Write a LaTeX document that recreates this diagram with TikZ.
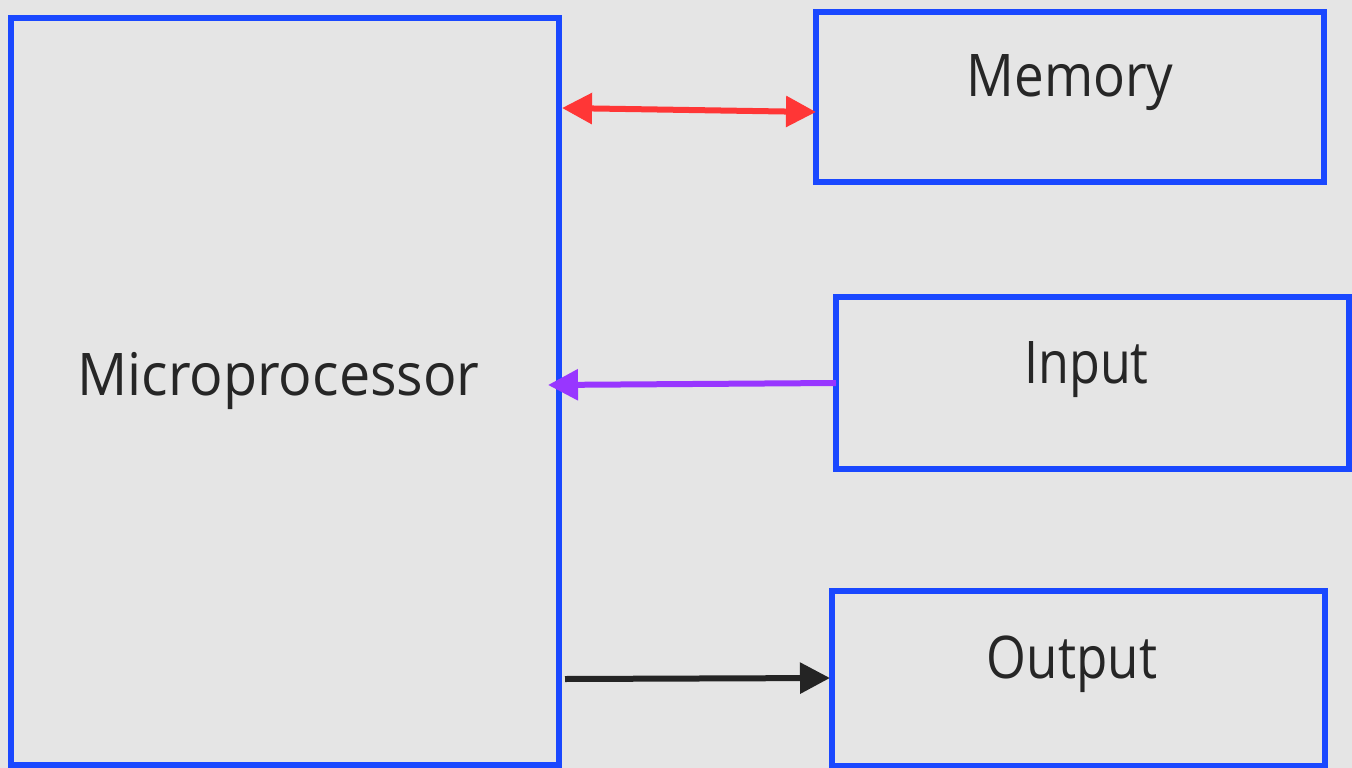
\documentclass[tikz,border=0pt]{standalone}
\usepackage{fontspec}
\usepackage{graphicx}
\setmainfont{Open Sans}
\usetikzlibrary{arrows.meta}
\definecolor{bgGrey}{RGB}{229,229,229}
\definecolor{boxBlue}{RGB}{26,72,255}
\definecolor{busRed}{RGB}{255,54,54}
\definecolor{busPurple}{RGB}{152,54,255}
\definecolor{busDark}{RGB}{36,36,36}
\definecolor{labelInk}{RGB}{38,38,38}
% caption set narrower than the font's natural width
\newcommand{\narrowcap}[2]{\scalebox{#1}[1]{#2}}
\tikzset{
  unitbox/.style={draw=boxBlue, line width=6pt, rectangle, inner sep=0pt},
  unitlabel/.style={anchor=base, inner sep=0pt, text=labelInk,
    font=\fontsize{58.8}{70}\selectfont},
  bus/.style={line width=6pt}
}
\begin{document}
\begin{tikzpicture}[x=1pt, y=-1pt]
  % canvas
  \fill[bgGrey] (0,0) rectangle (1352,768);
  \useasboundingbox (0,0) rectangle (1352,768);

  % functional blocks
  \node[unitbox, minimum width=548pt, minimum height=747pt] (mp)  at (285,391.5) {};
  \node[unitbox, minimum width=508pt, minimum height=170pt] (mem) at (1069.5,96.6) {};
  \node[unitbox, minimum width=513pt, minimum height=172pt] (inp) at (1092.5,383) {};
  \node[unitbox, minimum width=492.5pt, minimum height=175pt] (out) at (1078.25,678.5) {};

  % block captions
  \node[unitlabel] (mpText)  at (278.5,395) {\narrowcap{0.946}{Microprocessor}};
  \node[unitlabel] (memText) at (1070,96.7) {\narrowcap{0.90}{Memory}};
  \node[unitlabel] (inpText) at (1086.5,383) {\narrowcap{0.855}{Input}};
  \node[unitlabel] (outText) at (1072,678) {\narrowcap{0.87}{Output}};

  % data paths
  \draw[bus, busRed, {Triangle[length=30pt, width=30pt]}-{Triangle[length=30pt, width=30pt]}]
    (mp.east |- 0,108) -- ([xshift=3.5pt]mem.west |- 0,112);
  \draw[bus, busPurple, -{Triangle[length=30pt, width=30pt]}]
    ([xshift=3pt]inp.west |- 0,383) -- ([xshift=-14pt]mp.east |- 0,385);
  \draw[bus, busDark, -{Triangle[length=30pt, width=30pt]}]
    ([xshift=3pt]mp.east |- 0,679) -- ([xshift=1pt]out.west |- 0,678);
\end{tikzpicture}
\end{document}
